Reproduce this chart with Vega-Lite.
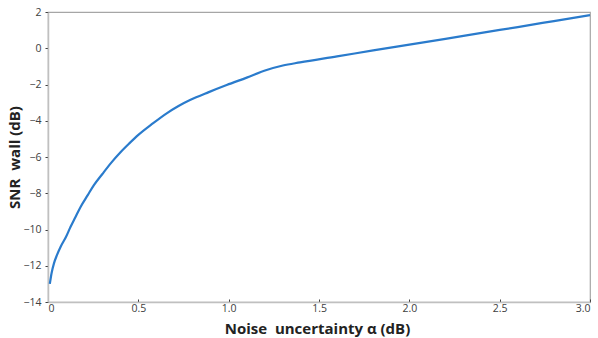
{
  "$schema": "https://vega.github.io/schema/vega-lite/v6.json",
  "width": 542,
  "height": 290,
  "autosize": {"type": "none"},
  "padding": {"left": 48, "top": 12, "right": 8, "bottom": 36},
  "background": "white",
  "config": {
    "view": {"stroke": "#a6a6a6", "strokeWidth": 1.2},
    "axis": {
      "labelFont": "Open Sans",
      "labelFontSize": 10.5,
      "labelColor": "#404040",
      "titleFont": "Open Sans",
      "titleFontSize": 15,
      "titleFontWeight": "bold",
      "titleColor": "#222222",
      "domainColor": "#c0c0c0",
      "domainWidth": 1.5,
      "tickColor": "#404040",
      "tickSize": 3,
      "grid": false
    }
  },
  "data": {
    "values": [
      {"alpha": 0.01, "snr": -13.0},
      {"alpha": 0.02, "snr": -12.4},
      {"alpha": 0.033, "snr": -11.87},
      {"alpha": 0.05, "snr": -11.4},
      {"alpha": 0.07, "snr": -10.95},
      {"alpha": 0.1, "snr": -10.4},
      {"alpha": 0.125, "snr": -9.85},
      {"alpha": 0.15, "snr": -9.35},
      {"alpha": 0.181, "snr": -8.74},
      {"alpha": 0.22, "snr": -8.1},
      {"alpha": 0.255, "snr": -7.54},
      {"alpha": 0.3, "snr": -6.95},
      {"alpha": 0.347, "snr": -6.35},
      {"alpha": 0.4, "snr": -5.75},
      {"alpha": 0.45, "snr": -5.25},
      {"alpha": 0.5, "snr": -4.78},
      {"alpha": 0.58, "snr": -4.15},
      {"alpha": 0.657, "snr": -3.59},
      {"alpha": 0.72, "snr": -3.2},
      {"alpha": 0.786, "snr": -2.86},
      {"alpha": 0.89, "snr": -2.42},
      {"alpha": 0.989, "snr": -2.03},
      {"alpha": 1.1, "snr": -1.62},
      {"alpha": 1.21, "snr": -1.2},
      {"alpha": 1.3, "snr": -0.95},
      {"alpha": 1.395, "snr": -0.78},
      {"alpha": 1.6, "snr": -0.45},
      {"alpha": 1.8, "snr": -0.12},
      {"alpha": 2.0, "snr": 0.2},
      {"alpha": 2.2, "snr": 0.52},
      {"alpha": 2.4, "snr": 0.85},
      {"alpha": 2.6, "snr": 1.17},
      {"alpha": 2.8, "snr": 1.5},
      {"alpha": 3.0, "snr": 1.83}
    ]
  },
  "mark": {"type": "line", "color": "#2a7bcc", "strokeWidth": 2.2, "interpolate": "monotone"},
  "encoding": {
    "x": {
      "field": "alpha",
      "type": "quantitative",
      "scale": {"domain": [0, 3], "nice": false},
      "axis": {
        "values": [0, 0.5, 1, 1.5, 2, 2.5, 3],
        "format": ".1f",
        "labelExpr": "datum.value == 0 ? '0' : datum.label",
        "tickSize": -3,
        "labelPadding": 4,
        "title": "Noise\u00a0 uncertainty α (dB)",
        "titleX": 269,
        "titleY": 31,
        "titleAlign": "center",
        "titleBaseline": "alphabetic"
      }
    },
    "y": {
      "field": "snr",
      "type": "quantitative",
      "scale": {"domain": [-14, 2], "nice": false},
      "axis": {
        "values": [-14, -12, -10, -8, -6, -4, -2, 0, 2],
        "labelPadding": 4,
        "title": "SNR\u00a0 wall (dB)",
        "titleX": -34,
        "titleY": 145,
        "titleAngle": -90,
        "titleAlign": "center",
        "titleBaseline": "middle"
      }
    }
  }
}
